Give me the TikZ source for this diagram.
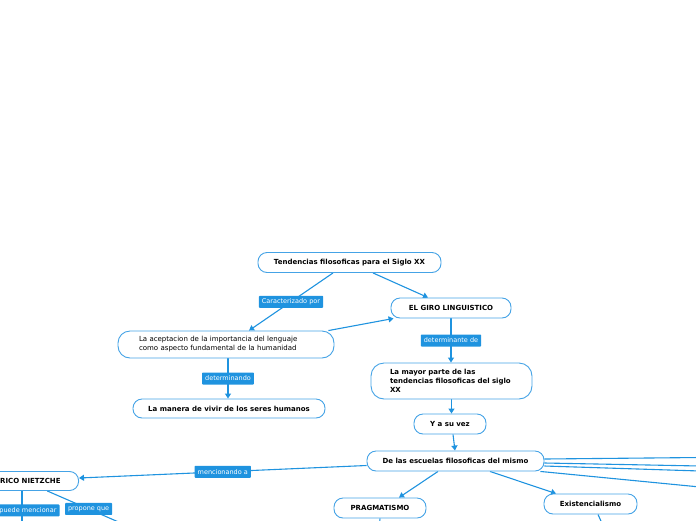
\documentclass[tikz,border=0pt]{standalone}
\usepackage{fontspec}
\setmainfont{DejaVu Sans}
\usetikzlibrary{arrows.meta,backgrounds}
\definecolor{azul}{HTML}{1F93DF}
\definecolor{borde}{HTML}{45A3E6}

\begin{document}
\begin{tikzpicture}[
    x=1pt, y=-1pt,
    concepto/.style={draw=borde, line width=0.9pt, fill=white, rounded corners=9pt,
      font=\fontsize{7}{9}\selectfont\bfseries, inner sep=0pt, minimum height=20pt},
    etiqueta/.style={fill=azul, text=white, font=\fontsize{6.5}{7}\selectfont,
      inner xsep=3pt, inner ysep=0pt, minimum height=12pt, rounded corners=0.8pt},
    enlace/.style={draw=azul, line width=1.1pt},
    flecha/.style={enlace, -{Triangle[width=6pt,length=5pt]}},
  ]
  \clip (0,0) rectangle (696,520);

  \node[concepto, minimum width=183pt] (tend) at (349.5,262.5) {Tendencias filosoficas para el Siglo XX};
  \node[concepto, minimum width=120pt] (giro) at (451,308) {EL GIRO LINGUISTICO};
  \node[concepto, font=\fontsize{7}{9}\selectfont, text width=174pt, inner xsep=21pt,
    minimum height=27pt, align=left, rounded corners=12pt] (acep) at (226,344.5)
    {La aceptacion de la importancia del lenguaje\\como aspecto fundamental de la humanidad};
  \node[concepto, minimum width=192pt, minimum height=19pt] (manera) at (229,408.5) {La manera de vivir de los seres humanos};
  \node[concepto, text width=123pt, inner xsep=19pt, minimum height=36pt, align=left,
    rounded corners=13pt] (mayor) at (451.5,381)
    {La mayor parte de las\\tendencias filosoficas del siglo\\XX};
  \node[concepto, minimum width=72pt] (vez) at (450,424) {Y a su vez};
  \node[concepto, minimum width=177pt] (esc) at (455.5,461) {De las escuelas filosoficas del mismo};
  \node[concepto, inner xsep=18pt, minimum height=19pt, anchor=east] (nietz) at (79,481) {FEDERICO NIETZCHE};
  \node[concepto, minimum width=92pt] (prag) at (380,508) {PRAGMATISMO};
  \node[concepto, minimum width=93pt] (exis) at (590.5,504) {Existencialismo};

  % ramas que salen del cuadro
  \coordinate (d1) at (700,457.5);
  \coordinate (d2) at (700,466);
  \coordinate (d3) at (700,471);
  \coordinate (d4) at (700,487);
  \coordinate (p1) at (379,530);
  \coordinate (e1) at (605,530);
  \coordinate (n1) at (22,530);
  \coordinate (n2) at (130,527);

  \begin{scope}[on background layer]
    \draw[flecha] ([xshift=-16.5pt]tend.south) -- node[etiqueta]{Caracterizado por} ([xshift=23pt]acep.north);
    \draw[flecha] ([xshift=23.5pt]tend.south) -- ([xshift=-23pt]giro.north);
    \draw[flecha] ([xshift=-6pt]acep.north east) -- ([xshift=3pt]giro.south west);
    \draw[flecha] (giro.south) -- node[etiqueta]{determinante de} (giro.south |- mayor.north);
    \draw[flecha] ([xshift=2pt]acep.south) -- node[etiqueta]{determinando} ([xshift=-1pt]manera.north);
    \draw[flecha] (mayor.south) -- (mayor.south |- vez.north);
    \draw[flecha] ([xshift=3pt]vez.south) -- ([xshift=-0.5pt]esc.north);
    \draw[flecha] ([yshift=-4.5pt]esc.west) -- node[etiqueta]{mencionando a} ([yshift=3pt]nietz.east);
    \draw[flecha] ([xshift=-17.5pt]esc.south) -- ([xshift=19pt]prag.north);
    \draw[flecha] ([xshift=34.5pt]esc.south) -- ([xshift=-34.5pt]exis.north);
    \draw[enlace] ([yshift=2pt]esc.east) -- (d1);
    \draw[enlace] ([yshift=-2pt]esc.east) -- (d2);
    \draw[enlace] ([yshift=-5pt]esc.east) -- (d3);
    \draw[enlace] ([xshift=-4pt]esc.south east) -- (d4);
    \draw[enlace] (prag.south) -- (p1);
    \draw[enlace] ([xshift=7.5pt]exis.south) -- (e1);
    \draw[enlace] (nietz.south -| n1) -- node[etiqueta, xshift=6pt]{puede mencionar} (n1);
    \draw[enlace] ([xshift=27pt]nietz.south) -- node[etiqueta]{propone que} (n2);
  \end{scope}
\end{tikzpicture}
\end{document}
